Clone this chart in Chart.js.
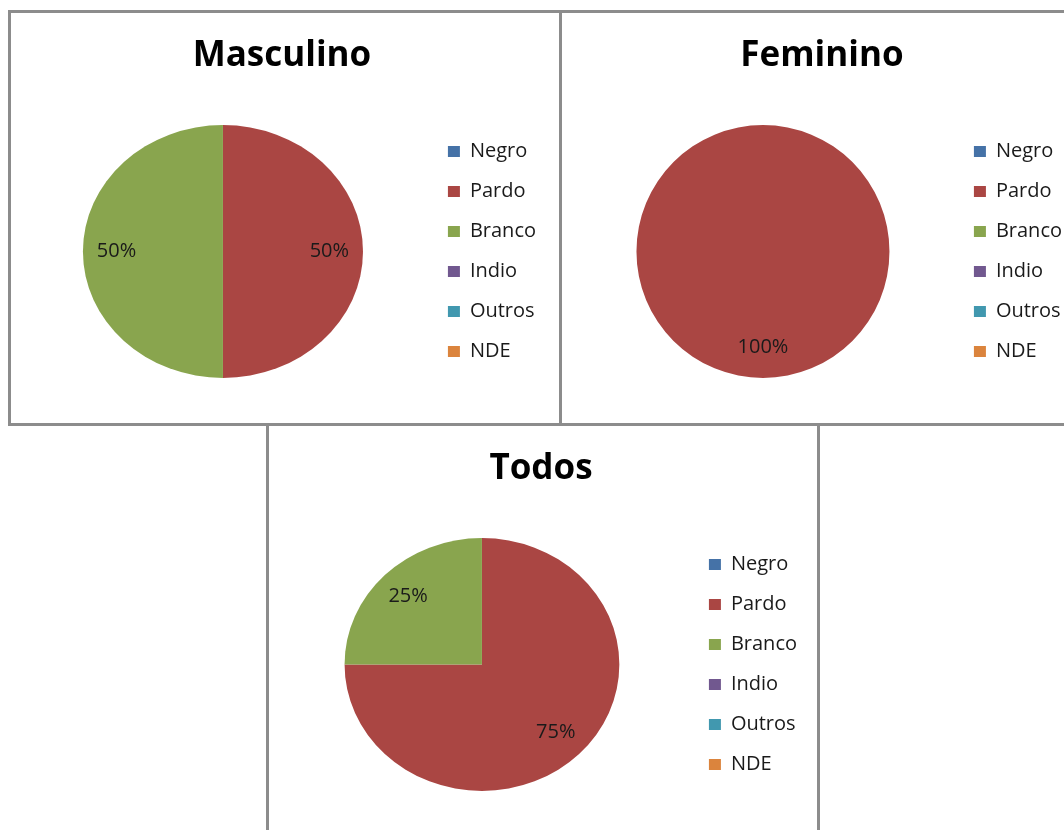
<!DOCTYPE html>
<html lang="pt">
<head>
<meta charset="utf-8">
<title>Cor / raça por sexo</title>
<script src="https://cdn.jsdelivr.net/npm/chart.js@4/dist/chart.umd.min.js"></script>
<style>
  html, body { margin: 0; padding: 0; background: #fff; overflow: hidden; }
  body { width: 1064px; height: 830px; position: relative; }
  .quadro {
    position: absolute;
    border: 3px solid #8c8c8c;
    box-sizing: border-box;
    background: #fff;
  }
  .quadro canvas { display: block; }
  #q1 { left: 8px; top: 10px; width: 554px; height: 416px; }
  #q2 { left: 559px; top: 10px; width: 520px; height: 416px; }
  #q3 { left: 266px; top: 423px; width: 554px; height: 420px; }
</style>
</head>
<body>
  <div class="quadro" id="q1"><canvas id="chartMasculino" width="548" height="410"></canvas></div>
  <div class="quadro" id="q2"><canvas id="chartFeminino" width="514" height="410"></canvas></div>
  <div class="quadro" id="q3"><canvas id="chartTodos" width="548" height="410"></canvas></div>

<script>
// dados
const categorias = ['Negro', 'Pardo', 'Branco', 'Indio', 'Outros', 'NDE'];
const masculino = [0, 50, 50, 0, 0, 0];
const feminino = [0, 100, 0, 0, 0, 0];
const todos = [0, 75, 25, 0, 0, 0];
const cores = ['#4572A7', '#AA4643', '#89A54E', '#71588F', '#4198AF', '#DB843D'];

const FONTE = "'Open Sans', 'Noto Sans', sans-serif";

// estica o círculo para ficar igual à elipse do Excel,
// e escreve as percentagens dentro das fatias
const pizzaOval = {
  id: 'pizzaOval',
  beforeDatasetsDraw(chart, args, opts) {
    const arc = chart.getDatasetMeta(0).data[0];
    const ctx = chart.ctx;
    ctx.save();
    ctx.translate(arc.x, arc.y);
    ctx.scale(opts.sx || 1, 1);
    ctx.translate(-arc.x, -arc.y);
  },
  afterDatasetsDraw(chart, args, opts) {
    const ctx = chart.ctx;
    ctx.restore();
    const valores = chart.data.datasets[0].data;
    const total = valores.reduce((s, v) => s + v, 0);
    const sx = opts.sx || 1;
    ctx.save();
    ctx.font = '20px ' + FONTE;
    ctx.fillStyle = '#1a1a1a';
    ctx.textAlign = 'center';
    ctx.textBaseline = 'middle';
    chart.getDatasetMeta(0).data.forEach((arc, i) => {
      if (!valores[i]) return;
      const p = arc.getProps(['x', 'y', 'startAngle', 'endAngle', 'outerRadius'], true);
      const meio = (p.startAngle + p.endAngle) / 2;
      const d = p.outerRadius * 0.76;
      const lx = p.x + Math.cos(meio) * d * sx;
      const ly = p.y + Math.sin(meio) * d;
      ctx.fillText(Math.round(valores[i] / total * 100) + '%', lx, ly);
    });
    ctx.restore();
  }
};

function criarPizza(id, titulo, valores, pad, sx) {
  const ctx = document.getElementById(id).getContext('2d');
  return new Chart(ctx, {
    type: 'pie',
    data: {
      labels: categorias,
      datasets: [{
        data: valores,
        backgroundColor: cores,
        borderWidth: 0,
        radius: 126.5
      }]
    },
    options: {
      responsive: false,
      animation: false,
      events: [],
      layout: { padding: { left: pad.left, right: pad.right, top: 0, bottom: 0 } },
      plugins: {
        title: {
          display: true,
          text: titulo,
          color: '#000',
          font: { family: FONTE, size: 35, weight: 'bold', lineHeight: 1.2 },
          padding: { top: 22, bottom: 3 }
        },
        legend: {
          position: 'right',
          align: 'center',
          fullSize: false,
          labels: {
            color: '#1a1a1a',
            font: { family: FONTE, size: 20 },
            boxWidth: 12,
            boxHeight: 11,
            padding: 20
          }
        },
        tooltip: { enabled: false },
        pizzaOval: { sx: sx }
      }
    },
    plugins: [pizzaOval]
  });
}

criarPizza('chartMasculino', 'Masculino', masculino, { left: 7, right: 13 }, 1.107);
criarPizza('chartFeminino', 'Feminino', feminino, { left: 10, right: 4 }, 1.0);
criarPizza('chartTodos', 'Todos', todos, { left: 6, right: 10 }, 1.086);
</script>
</body>
</html>
